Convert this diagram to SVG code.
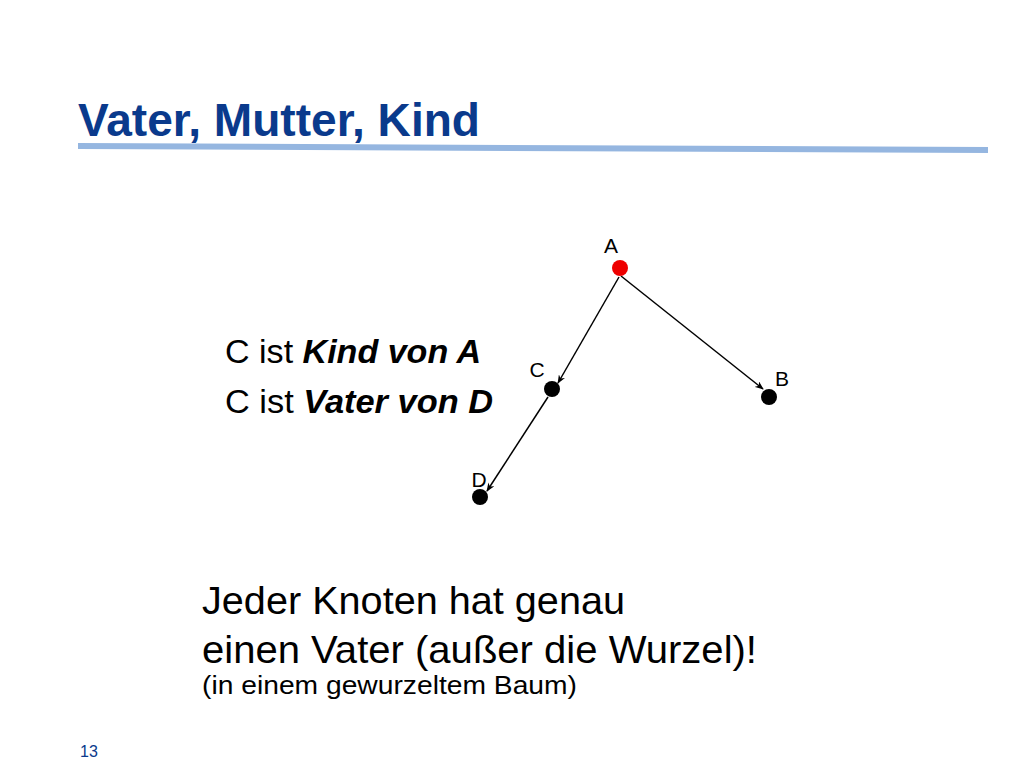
<svg xmlns="http://www.w3.org/2000/svg" width="1024" height="768" viewBox="0 0 1024 768">
<defs>
<style>
.t{font-family:"Liberation Sans",Arial,sans-serif;fill:#000}
.lbl{font-size:21px}
.edge{stroke:#000;stroke-width:1.5;fill:none;marker-end:url(#ah)}
.bi{font-weight:bold;font-style:italic}
</style>
<marker id="ah" viewBox="0 0 10 8" refX="9" refY="4" markerWidth="9" markerHeight="7" markerUnits="userSpaceOnUse" orient="auto">
<path d="M0,0 L10,4 L0,8 L3,4 z" fill="#000"/>
</marker>
</defs>
<rect width="1024" height="768" fill="#fff"/>
<g id="title">
<text class="t" x="78" y="136" font-size="46" font-weight="bold" style="fill:#0a3a8c" textLength="402" lengthAdjust="spacingAndGlyphs">Vater, Mutter, Kind</text>
<polygon points="78,143 988,147 988,153 78,149" fill="#95b6e0"/>
</g>
<g id="connectors">
<line class="edge" x1="619" y1="277" x2="558" y2="383"/>
<line class="edge" x1="621" y1="276" x2="763" y2="389"/>
<line class="edge" x1="548" y1="397" x2="487" y2="491"/>
</g>
<g id="node-A">
<circle cx="620" cy="268" r="8" fill="#ee0000"/>
<text class="t lbl" x="611" y="253" text-anchor="middle">A</text>
</g>
<g id="node-C">
<circle cx="552" cy="389" r="8" fill="#000"/>
<text class="t lbl" x="537" y="377" text-anchor="middle">C</text>
</g>
<g id="node-B">
<circle cx="769" cy="397" r="8" fill="#000"/>
<text class="t lbl" x="782" y="386" text-anchor="middle">B</text>
</g>
<g id="node-D">
<circle cx="480" cy="497" r="8" fill="#000"/>
<text class="t lbl" x="479" y="487" text-anchor="middle">D</text>
</g>
<g id="statements">
<text class="t" x="225" y="363" font-size="33" textLength="256" lengthAdjust="spacingAndGlyphs">C ist <tspan class="bi">Kind von A</tspan></text>
<text class="t" x="225" y="413" font-size="33" textLength="268" lengthAdjust="spacingAndGlyphs">C ist <tspan class="bi">Vater von D</tspan></text>
</g>
<g id="note">
<text class="t" x="202" y="614" font-size="39" textLength="423" lengthAdjust="spacingAndGlyphs">Jeder Knoten hat genau</text>
<text class="t" x="202" y="663" font-size="39" textLength="555" lengthAdjust="spacingAndGlyphs">einen Vater (außer die Wurzel)!</text>
<text class="t" x="202" y="694" font-size="26" textLength="375" lengthAdjust="spacingAndGlyphs">(in einem gewurzeltem Baum)</text>
</g>
<text class="t" x="80" y="757" font-size="16" style="fill:#0a3a8c">13</text>
</svg>
